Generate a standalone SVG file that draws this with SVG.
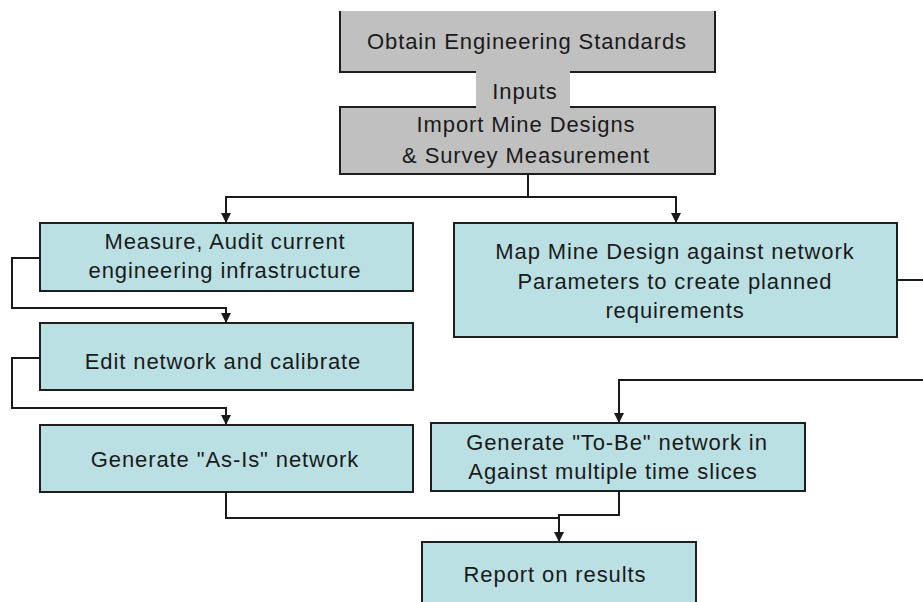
<svg xmlns="http://www.w3.org/2000/svg" width="923" height="602" viewBox="0 0 923 602">
<style>
.box{stroke:#1e1e1e;stroke-width:2}
.gray{fill:#c0c0c0}
.teal{fill:#bbe0e3}
.edge{fill:none;stroke:#1e1e1e;stroke-width:2}
text{font-family:"Liberation Sans",Arial,sans-serif;font-size:22px;letter-spacing:0.9px;fill:#1a1a1a;text-anchor:middle}
.conn path{fill:none;stroke:#1a1a1a;stroke-width:2}
</style>
<defs>
<marker id="arr" markerUnits="userSpaceOnUse" markerWidth="12" markerHeight="12" viewBox="0 -6 10 12" refX="10" refY="0" orient="auto">
<path d="M0,-5 L10,0 L0,5 z" fill="#1a1a1a"/>
</marker>
</defs>
<rect width="923" height="602" fill="#ffffff"/>
<g class="conn">
<path d="M528,174 L528,197"/>
<path d="M528,197 L226,197 L226,223" marker-end="url(#arr)"/>
<path d="M528,197 L676,197 L676,223" marker-end="url(#arr)"/>
<path d="M40,258 L12,258 L12,308 L226,308 L226,323" marker-end="url(#arr)"/>
<path d="M40,358 L12,358 L12,408 L226,408 L226,425" marker-end="url(#arr)"/>
<path d="M897,280 L935,280 L935,380 L619,380 L619,423" marker-end="url(#arr)"/>
<path d="M226,492 L226,518 L559,518"/>
<path d="M619,491 L619,515 L559,515 L559,542" marker-end="url(#arr)"/>
</g>
<g id="obtain">
<rect class="gray" x="340" y="11" width="375" height="61"/>
<path class="edge" d="M340,11 L340,72 L715,72 L715,11"/>
<text x="527" y="49">Obtain Engineering Standards</text>
</g>
<g id="import">
<rect class="box gray" x="340" y="107" width="375" height="67"/>
<text x="526" y="132">Import Mine Designs</text>
<text x="526" y="163">&amp; Survey Measurement</text>
</g>
<g id="inputs">
<rect class="gray" x="476" y="71" width="94" height="37"/>
<text x="525" y="99">Inputs</text>
</g>
<g id="measure">
<rect class="box teal" x="40" y="223" width="373" height="68"/>
<text x="225" y="249">Measure, Audit current</text>
<text x="225" y="278">engineering infrastructure</text>
</g>
<g id="map">
<rect class="box teal" x="454" y="223" width="443" height="114"/>
<text x="675" y="259">Map Mine Design against network</text>
<text x="675" y="289">Parameters to create planned</text>
<text x="675" y="318">requirements</text>
</g>
<g id="edit">
<rect class="box teal" x="40" y="323" width="373" height="67"/>
<text x="223" y="369">Edit network and calibrate</text>
</g>
<g id="asis">
<rect class="box teal" x="40" y="425" width="373" height="67"/>
<text x="225" y="467">Generate "As-Is" network</text>
</g>
<g id="tobe">
<rect class="box teal" x="431" y="423" width="374" height="68"/>
<text x="617" y="450">Generate "To-Be" network in</text>
<text x="613" y="479">Against multiple time slices</text>
</g>
<g id="report">
<rect class="box teal" x="422" y="542" width="274" height="80"/>
<text x="555" y="582">Report on results</text>
</g>
</svg>
